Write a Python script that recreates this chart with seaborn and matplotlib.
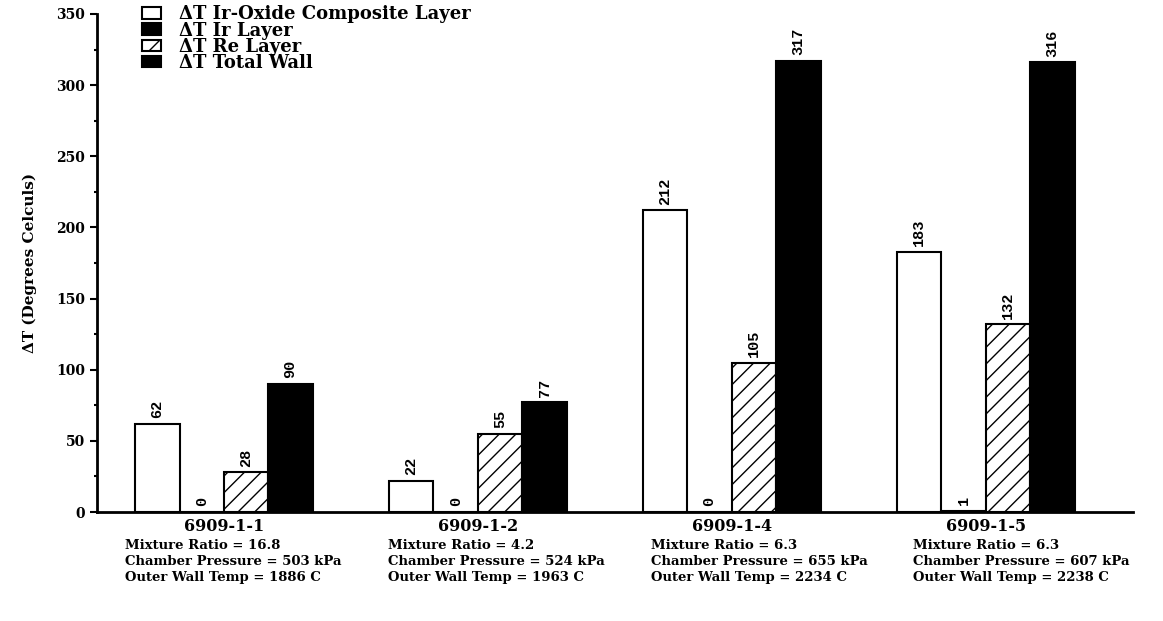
import numpy as np
import pandas as pd
import seaborn as sns
import matplotlib.pyplot as plt
from matplotlib.patches import Patch
from matplotlib.ticker import MultipleLocator
from matplotlib import transforms

tests = ["6909-1-1", "6909-1-2", "6909-1-4", "6909-1-5"]
details = [
    "Mixture Ratio = 16.8\nChamber Pressure = 503 kPa\nOuter Wall Temp = 1886 C",
    "Mixture Ratio = 4.2\nChamber Pressure = 524 kPa\nOuter Wall Temp = 1963 C",
    "Mixture Ratio = 6.3\nChamber Pressure = 655 kPa\nOuter Wall Temp = 2234 C",
    "Mixture Ratio = 6.3\nChamber Pressure = 607 kPa\nOuter Wall Temp = 2238 C",
]
layers = ["\u0394T Ir-Oxide Composite Layer", "\u0394T Ir Layer", "\u0394T Re Layer", "\u0394T Total Wall"]
ir_oxide = [62, 22, 212, 183]
ir_layer = [0, 0, 0, 1]
re_layer = [28, 55, 105, 132]
total_wall = [90, 77, 317, 316]

df = pd.DataFrame({
    "test": tests * 4,
    "layer": np.repeat(layers, 4),
    "dT": ir_oxide + ir_layer + re_layer + total_wall,
})

sns.set_style("ticks")
plt.rcParams["font.family"] = ["DejaVu Serif"]
plt.rcParams["font.weight"] = "bold"
plt.rcParams["hatch.linewidth"] = 1.0
for key in ["text.color", "axes.labelcolor", "xtick.color", "ytick.color", "axes.edgecolor"]:
    plt.rcParams[key] = "black"

fig = plt.figure(figsize=(11.63, 6.21), dpi=100)
ax = fig.add_axes([0.0834, 0.1755, 0.8908, 0.802])

fills = ["white", "black", "white", "black"]
sns.barplot(data=df, x="test", y="dT", hue="layer", order=tests, hue_order=layers,
            palette=fills, edgecolor="black", linewidth=1.5, width=0.7,
            saturation=1, legend=False, ax=ax)

for bar in ax.containers[2]:
    bar.set_hatch("//")

for cont in ax.containers:
    ax.bar_label(cont, rotation=90, padding=4, fontsize=11, fontweight="bold",
                 family="Liberation Mono", color="black")

ax.set_ylim(0, 350)
ax.set_xlim(-0.5, 3.58)
ax.yaxis.set_major_locator(MultipleLocator(50))
ax.yaxis.set_minor_locator(MultipleLocator(25))
ax.tick_params(axis="y", which="major", length=5, width=1.5, labelsize=10)
ax.tick_params(axis="y", which="minor", length=2, width=1.5)
ax.tick_params(axis="x", length=0, labelsize=11.5, pad=4)
for lbl in ax.get_yticklabels():
    lbl.set_fontweight("bold")
ax.set_xticks(range(4))
ax.set_xticklabels(tests, fontweight="bold")

sns.despine(ax=ax)
ax.spines["left"].set_linewidth(2)
ax.spines["bottom"].set_linewidth(2)

ax.set_xlabel("")
ax.set_ylabel("\u0394T (Degrees Celculs)", fontsize=11, fontweight="bold", labelpad=14)

trans = transforms.blended_transform_factory(ax.transData, ax.transAxes)
for i, txt in enumerate(details):
    ax.text(i - 0.39 + 0.035 * i, -0.054, txt, transform=trans, ha="left", va="top",
            fontsize=9.5, fontweight="bold", linespacing=1.3)

handles = [Patch(facecolor=c, edgecolor="black", linewidth=1.5, hatch=h)
           for c, h in zip(fills, ["", "", "//", ""])]
ax.legend(handles, layers, loc="upper left", bbox_to_anchor=(0.028, 1.05),
          frameon=False, prop={"size": 13, "weight": "bold"},
          labelspacing=-0.1, handlelength=1.05, handleheight=0.6, handletextpad=1.0)

fig.savefig("out.png", dpi=100)
